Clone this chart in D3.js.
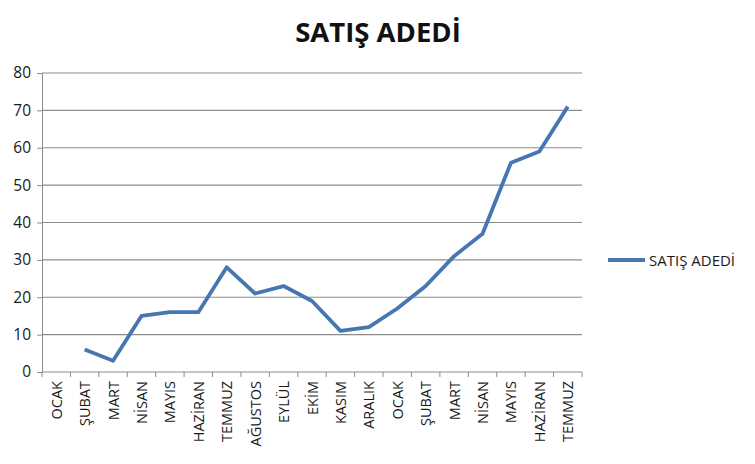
<!DOCTYPE html>
<html>
<head>
<meta charset="utf-8">
<script src="https://cdn.jsdelivr.net/npm/d3@7"></script>
<style>
  body { margin: 0; background: #fff; }
  text { font-family: "Open Sans", "DejaVu Sans", sans-serif; }
</style>
</head>
<body>
<div id="chart"></div>
<script>
const months = ["OCAK", "ŞUBAT", "MART", "NİSAN", "MAYIS", "HAZİRAN", "TEMMUZ", "AĞUSTOS", "EYLÜL", "EKİM",
    "KASIM", "ARALIK", "OCAK", "ŞUBAT", "MART", "NİSAN", "MAYIS", "HAZİRAN", "TEMMUZ"];
const sales = [null, 6, 3, 15, 16, 16, 28, 21, 23, 19, 11, 12, 17, 23, 31, 37, 56, 59, 71];
const yTicks = [0, 10, 20, 30, 40, 50, 60, 70, 80];
const seriesName = "SATIŞ ADEDİ";

const svg = d3.select("#chart").append("svg")
    .attr("width", 755)
    .attr("height", 464);

const margin = { top: 73, left: 42 },
    width = 540,
    height = 299;

const g = svg.append("g").attr("transform", `translate(${margin.left},${margin.top})`);

const x = d3.scaleBand().domain(d3.range(months.length)).range([0, width]);
const y = d3.scaleLinear().domain([0, 80]).range([height, 0]);

// gridlines
g.selectAll(".grid")
    .data(yTicks.slice(1))
    .enter().append("line")
    .attr("x1", 0).attr("x2", width)
    .attr("y1", d => y(d)).attr("y2", d => y(d))
    .attr("stroke", "#8c8c8c")
    .attr("stroke-width", 1.2);

// y axis
const yAxis = g.append("g")
    .call(d3.axisLeft(y).tickValues(yTicks).tickSize(5).tickPadding(6));
yAxis.select(".domain").attr("stroke", "#8c8c8c");
yAxis.selectAll(".tick line").attr("stroke", "#8c8c8c");
yAxis.selectAll("text").style("font-size", "15.5px").attr("fill", "#1a1a1a");

// x axis: ticks between categories
const xAxis = g.append("g").attr("transform", `translate(0,${height})`);
xAxis.append("line")
    .attr("x1", 0).attr("x2", width)
    .attr("stroke", "#8c8c8c");
xAxis.selectAll(".xt")
    .data(d3.range(months.length + 1))
    .enter().append("line")
    .attr("x1", i => i < months.length ? x(i) : width)
    .attr("x2", i => i < months.length ? x(i) : width)
    .attr("y1", 0).attr("y2", 5)
    .attr("stroke", "#8c8c8c");
xAxis.selectAll(".xl")
    .data(months)
    .enter().append("text")
    .attr("transform", (d, i) => `translate(${x(i) + x.bandwidth() / 2 + 5.5},9) rotate(-90)`)
    .attr("text-anchor", "end")
    .style("font-size", "14.5px")
    .attr("fill", "#1a1a1a")
    .text(d => d);

// line
const line = d3.line()
    .defined(d => d != null)
    .x((d, i) => x(i) + x.bandwidth() / 2)
    .y(d => y(d));

g.append("path")
    .datum(sales)
    .attr("fill", "none")
    .attr("stroke", "#4677b0")
    .attr("stroke-width", 3.8)
    .attr("stroke-linejoin", "round")
    .attr("d", line);

// title
svg.append("text")
    .attr("x", 378)
    .attr("y", 42)
    .attr("text-anchor", "middle")
    .style("font-size", "27.5px")
    .style("font-weight", "bold")
    .attr("fill", "#111")
    .text(seriesName);

// legend
svg.append("line")
    .attr("x1", 608).attr("x2", 645)
    .attr("y1", 260).attr("y2", 260)
    .attr("stroke", "#4677b0")
    .attr("stroke-width", 3.8);
svg.append("text")
    .attr("x", 649)
    .attr("y", 265.5)
    .style("font-size", "15px")
    .attr("fill", "#1a1a1a")
    .text(seriesName);
</script>
</body>
</html>
